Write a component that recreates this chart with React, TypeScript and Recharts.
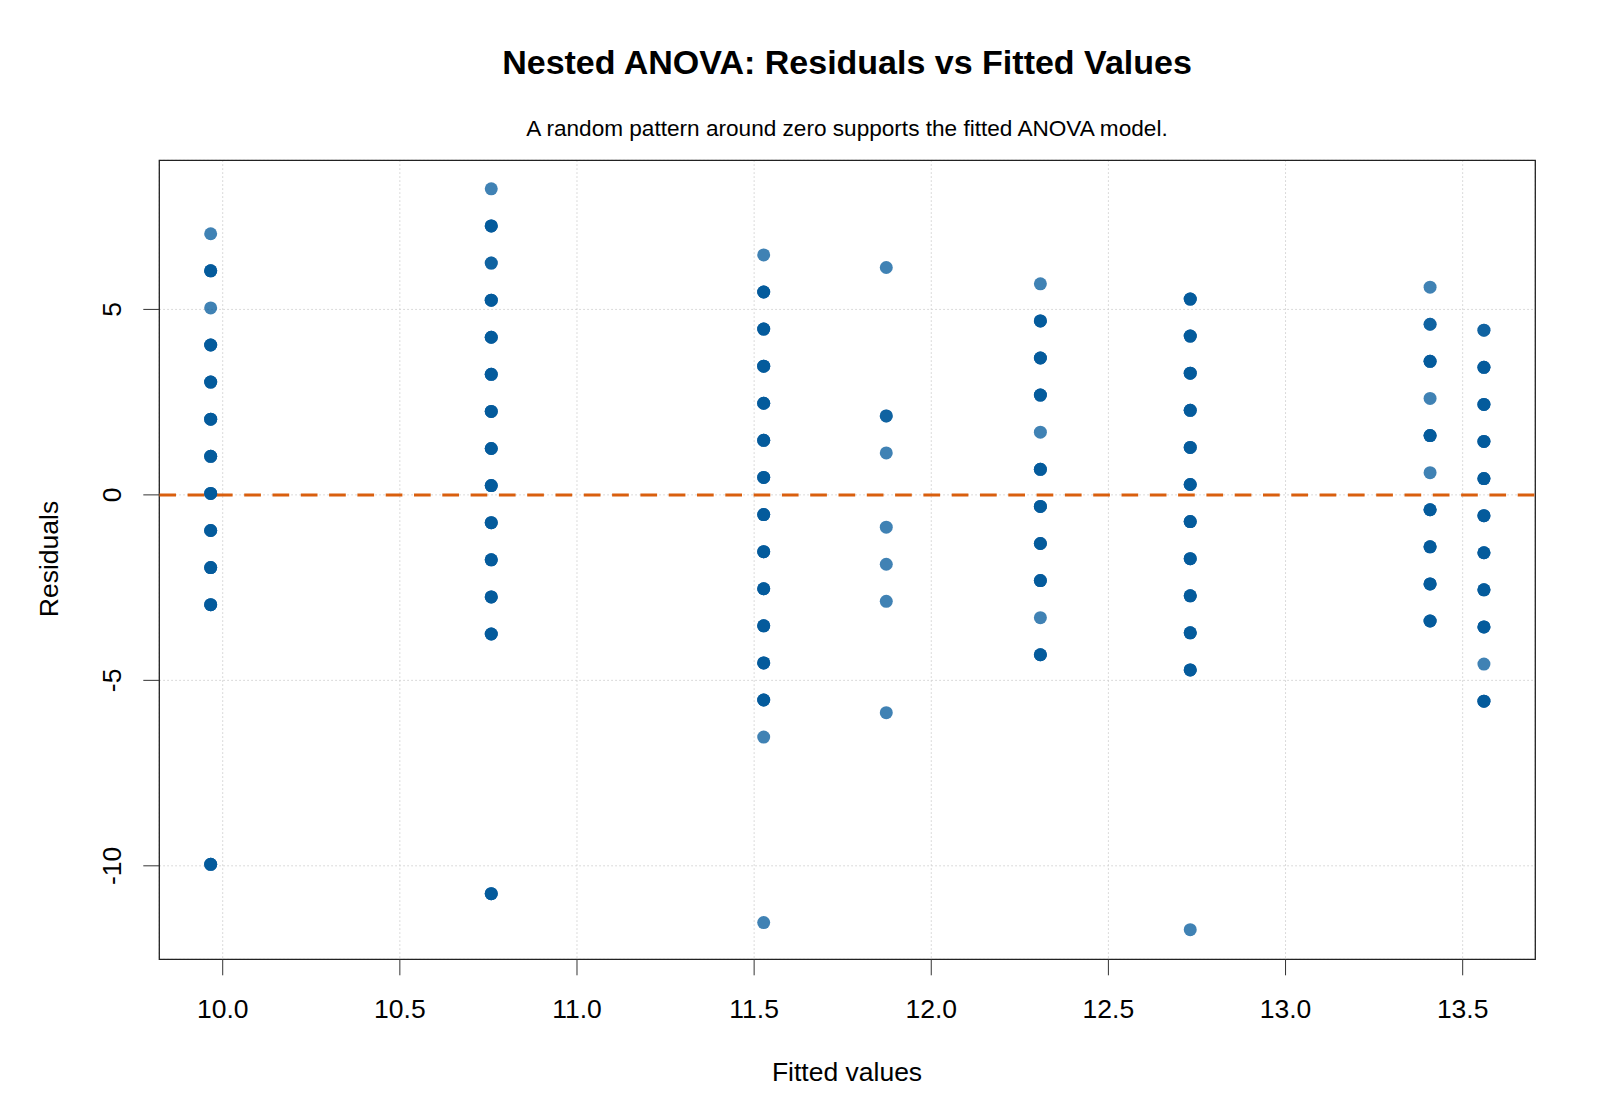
import { ScatterChart, Scatter, XAxis, YAxis, CartesianGrid, ReferenceLine, ReferenceArea } from "recharts";

// fitted value of each cell and the residuals observed in it
const fittedValues = [9.966, 10.758, 11.527, 11.873, 12.308, 12.731, 13.408, 13.56];

const residualsByGroup = [
  [7.04, 6.04, 5.04, 4.04, 3.04, 2.04, 1.04, 0.04, -0.96, -1.96, -2.96, -9.96],
  [8.25, 7.25, 6.25, 5.25, 4.25, 3.25, 2.25, 1.25, 0.25, -0.75, -1.75, -2.75, -3.75, -10.75],
  [6.47, 5.47, 4.47, 3.47, 2.47, 1.47, 0.47, -0.53, -1.53, -2.53, -3.53, -4.53, -5.53, -6.53, -11.53],
  [6.13, 2.13, 1.13, -0.87, -1.87, -2.87, -5.87],
  [5.69, 4.69, 3.69, 2.69, 1.69, 0.69, -0.31, -1.31, -2.31, -3.31, -4.31],
  [5.28, 4.28, 3.28, 2.28, 1.28, 0.28, -0.72, -1.72, -2.72, -3.72, -4.72, -11.72],
  [5.6, 4.6, 3.6, 2.6, 1.6, 0.6, -0.4, -1.4, -2.4, -3.4],
  [4.44, 3.44, 2.44, 1.44, 0.44, -0.56, -1.56, -2.56, -3.56, -4.56, -5.56],
];

// how many observations share each residual (tied values overplot)
const tiesByGroup = [
  [1, 3, 1, 3, 3, 3, 3, 3, 3, 3, 3, 3],
  [1, 3, 2, 3, 3, 3, 3, 3, 3, 3, 3, 3, 3, 3],
  [1, 3, 3, 3, 3, 3, 3, 3, 3, 3, 3, 3, 3, 1, 1],
  [1, 2, 1, 1, 1, 1, 1],
  [1, 3, 3, 3, 1, 3, 3, 3, 3, 1, 3],
  [3, 3, 3, 3, 3, 3, 3, 3, 3, 3, 3, 1],
  [1, 2, 3, 1, 3, 1, 3, 3, 3, 3],
  [2, 3, 3, 3, 3, 3, 3, 3, 3, 1, 3],
];

const xTicks = [10.0, 10.5, 11.0, 11.5, 12.0, 12.5, 13.0, 13.5];
const yTicks = [-10, -5, 0, 5];
const xDomain = [9.821, 13.705];
const yDomain = [-12.52, 9.02];

const points: { fitted: number; residual: number }[] = [];
fittedValues.forEach((fitted, g) => {
  residualsByGroup[g].forEach((residual, i) => {
    for (let k = 0; k < tiesByGroup[g][i]; k++) points.push({ fitted, residual });
  });
});

const FONT = '"Liberation Sans", Arial, Helvetica, sans-serif';
const POINT_COLOR = "#00589B";

const XTick = (props: any) => {
  const { x, payload } = props;
  return (
    <text x={x} y={1018} textAnchor="middle" fontSize={26.5} fontFamily={FONT} fill="#000">
      {Number(payload.value).toFixed(1)}
    </text>
  );
};

const YTick = (props: any) => {
  const { y, payload } = props;
  const bx = 121.5;
  return (
    <text
      x={bx}
      y={y}
      transform={`rotate(-90, ${bx}, ${y})`}
      textAnchor="middle"
      fontSize={26.5}
      fontFamily={FONT}
      fill="#000"
    >
      {payload.value}
    </text>
  );
};

const Dot = (props: any) => (
  <circle cx={props.cx} cy={props.cy} r={6.5} fill={POINT_COLOR} fillOpacity={0.75} />
);

export default function App() {
  return (
    <div style={{ position: "absolute", left: 0, top: 0, width: 1600, height: 1120, background: "#fff" }}>
      <ScatterChart
        width={1600}
        height={1120}
        margin={{ top: 160.3, right: 64.7, bottom: 100.7, left: 99.3 }}
      >
        <CartesianGrid stroke="#cfcfcf" strokeDasharray="1.5 2.5" />
        <XAxis
          type="number"
          dataKey="fitted"
          domain={xDomain}
          ticks={xTicks}
          allowDataOverflow
          height={60}
          axisLine={false}
          tickSize={16}
          tickLine={{ stroke: "#333", strokeWidth: 1 }}
          tick={<XTick />}
          interval={0}
        />
        <YAxis
          type="number"
          dataKey="residual"
          domain={yDomain}
          ticks={yTicks}
          allowDataOverflow
          width={60}
          axisLine={false}
          tickSize={16}
          tickLine={{ stroke: "#333", strokeWidth: 1 }}
          tick={<YTick />}
          interval={0}
        />
        <Scatter data={points} shape={<Dot />} isAnimationActive={false} />
        <ReferenceLine y={0} stroke="#D95F0E" strokeWidth={3} strokeDasharray="16.7 11.6" />
        <ReferenceArea
          x1={xDomain[0]}
          x2={xDomain[1]}
          y1={yDomain[0]}
          y2={yDomain[1]}
          fill="none"
          stroke="#222"
          strokeWidth={1.3}
          ifOverflow="visible"
        />
      </ScatterChart>
      <svg
        width={1600}
        height={1120}
        style={{ position: "absolute", left: 0, top: 0, pointerEvents: "none" }}
        fontFamily={FONT}
      >
        <text x={847} y={74} textAnchor="middle" fontSize={34} fontWeight="bold" fill="#000">
          Nested ANOVA: Residuals vs Fitted Values
        </text>
        <text x={847} y={135.5} textAnchor="middle" fontSize={22.6} fill="#000">
          A random pattern around zero supports the fitted ANOVA model.
        </text>
        <text x={847} y={1081} textAnchor="middle" fontSize={26.5} fill="#000">
          Fitted values
        </text>
        <text
          x={58.3}
          y={559}
          transform="rotate(-90, 58.3, 559)"
          textAnchor="middle"
          fontSize={26.5}
          fill="#000"
        >
          Residuals
        </text>
      </svg>
    </div>
  );
}
